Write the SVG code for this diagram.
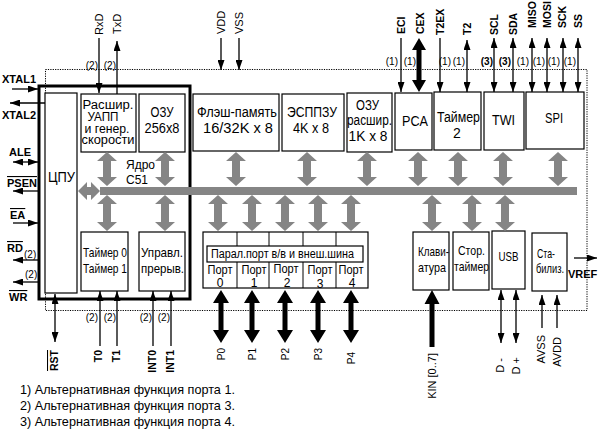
<svg xmlns="http://www.w3.org/2000/svg" xmlns:xlink="http://www.w3.org/1999/xlink" width="598" height="432" viewBox="0 0 598 432">
<style>
.bx{fill:#fff;stroke:#000;stroke-width:1.2}
.core{fill:none;stroke:#000;stroke-width:3}
.dot{fill:none;stroke:#000;stroke-width:1;stroke-dasharray:1.2 1.2}
.ln{stroke:#000;stroke-width:1.3;fill:none}
.gr{fill:#858585}
.blk{fill:#000}
text{font-family:"Liberation Sans",Arial,sans-serif;fill:#000}
.t{font-size:14px;text-anchor:middle}
.tb{font-size:13px;text-anchor:middle}
.tu{font-size:12px;text-anchor:middle}
.t12{font-size:12px;text-anchor:middle}
.sb{font-size:11px;font-weight:bold}
.s10b{font-size:10.5px;font-weight:bold}
.s10{font-size:10px}
.s11{font-size:11px}
.ov{text-decoration:overline}
.fn{font-size:13px}
</style>
<defs>
<marker id="ah" viewBox="0 0 10 7" refX="10" refY="3.5" markerWidth="10" markerHeight="7" markerUnits="userSpaceOnUse" orient="auto-start-reverse"><path d="M0,0L10,3.5L0,7z" fill="#000"/></marker>
<path id="gT" d="M0,0L10,9L4,9L4,25L10,25L0,34L-10,25L-4,25L-4,9L-10,9Z"/>
<path id="gB" d="M0,0L10,9L4,9L4,27L10,27L0,36L-10,27L-4,27L-4,9L-10,9Z"/>
<path id="pA" d="M0,0L8,13L2.5,13L2.5,40L8,40L0,53L-8,40L-2.5,40L-2.5,13L-8,13Z"/>
</defs>
<rect width="598" height="432" fill="#fff"/>

<rect id="outline" class="dot" x="45.5" y="69.5" width="541.5" height="241"/>
<rect id="core" class="core" x="39" y="86" width="151" height="213"/>

<g id="cpu"><rect class="bx" x="45" y="93" width="32" height="200"/><text class="t" x="61.5" y="182" textLength="27" lengthAdjust="spacingAndGlyphs">ЦПУ</text></g>
<g id="uart"><rect class="bx" x="81" y="94" width="55" height="58"/>
<text class="tu" x="108" y="109" textLength="51" lengthAdjust="spacingAndGlyphs">Расшир.</text>
<text class="tu" x="103" y="121" textLength="31" lengthAdjust="spacingAndGlyphs">УАПП</text>
<text class="tu" x="107" y="132.5" textLength="45" lengthAdjust="spacingAndGlyphs">и генер.</text>
<text class="tu" x="108" y="144" textLength="53" lengthAdjust="spacingAndGlyphs">скорости</text></g>
<g id="ram256"><rect class="bx" x="139" y="94" width="46" height="58"/>
<text class="t" x="162" y="117" textLength="23" lengthAdjust="spacingAndGlyphs">ОЗУ</text>
<text class="t" x="162" y="133" textLength="35" lengthAdjust="spacingAndGlyphs">256x8</text></g>
<g id="core51"><text style="font-size:13px" x="126" y="169" textLength="29" lengthAdjust="spacingAndGlyphs">Ядро</text>
<text style="font-size:13px" x="126" y="184" textLength="22" lengthAdjust="spacingAndGlyphs">С51</text></g>
<g id="flash"><rect class="bx" x="193" y="94" width="86" height="57"/>
<text class="t" x="237" y="117" textLength="80" lengthAdjust="spacingAndGlyphs">Флэш-память</text>
<text class="t" x="238" y="133" textLength="70" lengthAdjust="spacingAndGlyphs">16/32K x 8</text></g>
<g id="eeprom"><rect class="bx" x="282" y="94" width="62" height="57"/>
<text class="t" x="312" y="117" textLength="50" lengthAdjust="spacingAndGlyphs">ЭСППЗУ</text>
<text class="t" x="311" y="133" textLength="36" lengthAdjust="spacingAndGlyphs">4K x 8</text></g>
<g id="xram"><rect class="bx" x="347" y="93" width="45" height="59"/>
<text class="t" x="367.5" y="110" textLength="23" lengthAdjust="spacingAndGlyphs">ОЗУ</text>
<text class="t" x="369.5" y="125" textLength="45" lengthAdjust="spacingAndGlyphs">расшир.</text>
<text class="t" x="368" y="141" textLength="39" lengthAdjust="spacingAndGlyphs">1K x 8</text></g>
<g id="pca"><rect class="bx" x="395" y="93" width="37" height="57"/>
<text class="t" x="415" y="126" textLength="26" lengthAdjust="spacingAndGlyphs">PCA</text></g>
<g id="timer2"><rect class="bx" x="434" y="92" width="47" height="58"/>
<text class="t" x="458.5" y="122" textLength="43" lengthAdjust="spacingAndGlyphs">Таймер</text>
<text class="t" x="457" y="138">2</text></g>
<g id="twi"><rect class="bx" x="484" y="92" width="40" height="58"/>
<text class="t" x="503.5" y="125" textLength="23" lengthAdjust="spacingAndGlyphs">TWI</text></g>
<g id="spi"><rect class="bx" x="526" y="92" width="58" height="57"/>
<text class="t" x="554" y="123" textLength="18" lengthAdjust="spacingAndGlyphs">SPI</text></g>

<g id="timer01"><rect class="bx" x="81" y="232" width="47" height="59"/>
<text class="tb" x="105" y="257" textLength="44" lengthAdjust="spacingAndGlyphs">Таймер 0</text>
<text class="tb" x="105" y="273" textLength="44" lengthAdjust="spacingAndGlyphs">Таймер 1</text></g>
<g id="intctl"><rect class="bx" x="139" y="232" width="46" height="59"/>
<text class="tb" x="162" y="257" textLength="42" lengthAdjust="spacingAndGlyphs">Управл.</text>
<text class="tb" x="162.5" y="273" textLength="43" lengthAdjust="spacingAndGlyphs">прерыв.</text></g>
<g id="ports"><rect class="bx" x="203" y="232" width="165" height="56"/>
<path class="ln" style="stroke-width:1" d="M237,232V246M269,232V246M303,232V246M336,232V246M237,262V288M269,262V288M303,262V288M336,262V288"/>
<rect class="bx" x="207" y="246" width="156" height="16"/>
<text class="t12" x="282.5" y="258" textLength="143" lengthAdjust="spacingAndGlyphs">Парал.порт в/в и внеш.шина</text>
<text class="t12" x="220" y="274" textLength="25" lengthAdjust="spacingAndGlyphs">Порт</text>
<text class="t12" x="254" y="274" textLength="25" lengthAdjust="spacingAndGlyphs">Порт</text>
<text class="t12" x="286" y="273" textLength="25" lengthAdjust="spacingAndGlyphs">Порт</text>
<text class="t12" x="320" y="274" textLength="25" lengthAdjust="spacingAndGlyphs">Порт</text>
<text class="t12" x="351" y="274" textLength="25" lengthAdjust="spacingAndGlyphs">Порт</text>
<text class="t12" x="220" y="287">0</text>
<text class="t12" x="254" y="287">1</text>
<text class="t12" x="287" y="287">2</text>
<text class="t12" x="320" y="288">3</text>
<text class="t12" x="352" y="287">4</text></g>
<g id="kbd"><rect class="bx" x="413" y="232" width="36" height="58"/>
<text class="tb" x="433.5" y="256" textLength="31" lengthAdjust="spacingAndGlyphs">Клави-</text>
<text class="tb" x="432" y="272" textLength="28" lengthAdjust="spacingAndGlyphs">атура</text></g>
<g id="wdt"><rect class="bx" x="453" y="232" width="36" height="58"/>
<text class="tb" x="471.5" y="255" textLength="27" lengthAdjust="spacingAndGlyphs">Стор.</text>
<text class="tb" x="471.5" y="271" textLength="35" lengthAdjust="spacingAndGlyphs">таймер</text></g>
<g id="usb"><rect class="bx" x="492" y="231" width="33" height="58"/>
<text class="tb" x="508.5" y="261" textLength="20" lengthAdjust="spacingAndGlyphs">USB</text></g>
<g id="stab"><rect class="bx" x="532" y="233" width="35" height="58"/>
<text class="tb" x="546" y="258" textLength="18" lengthAdjust="spacingAndGlyphs">Ста-</text>
<text class="tb" x="550" y="273" textLength="28" lengthAdjust="spacingAndGlyphs">билиз.</text></g>

<g id="connectors">
<rect class="gr" x="100" y="187" width="477" height="8"/>
<path class="gr" d="M78,191L87,182L87,187L91,187L91,182L100,191L91,200L91,195L87,195L87,200Z"/>
<g class="gr">
<use xlink:href="#gT" x="107" y="152"/><use xlink:href="#gT" x="165" y="152"/><use xlink:href="#gT" x="236" y="152"/>
<use xlink:href="#gT" x="307" y="152"/><use xlink:href="#gT" x="367" y="152"/><use xlink:href="#gT" x="418" y="152"/>
<use xlink:href="#gT" x="458" y="152"/><use xlink:href="#gT" x="503" y="152"/><use xlink:href="#gT" x="558" y="152"/>
<use xlink:href="#gB" x="107" y="195"/><use xlink:href="#gB" x="165" y="195"/><use xlink:href="#gB" x="218" y="195"/>
<use xlink:href="#gB" x="252" y="195"/><use xlink:href="#gB" x="285" y="195"/><use xlink:href="#gB" x="318" y="195"/>
<use xlink:href="#gB" x="351" y="195"/><use xlink:href="#gB" x="432" y="195"/><use xlink:href="#gB" x="472" y="195"/>
<use xlink:href="#gB" x="505" y="195"/>
</g>
<g class="blk">
<use xlink:href="#pA" x="221" y="290"/><use xlink:href="#pA" x="252" y="290"/><use xlink:href="#pA" x="285" y="290"/>
<use xlink:href="#pA" x="318" y="290"/><use xlink:href="#pA" x="351" y="290"/>
<path d="M419,38L426,50L421.5,50L421.5,80L426,80L419,92L412,80L416.5,80L416.5,50L412,50Z"/>
<path d="M432,290L439.5,304L434.5,304L434.5,347L429.5,347L429.5,304L424.5,304Z"/>
</g>
<g class="ln" marker-end="url(#ah)">
<line x1="99" y1="38" x2="99" y2="93"/>
<line x1="117" y1="94" x2="117" y2="41"/>
<line x1="221" y1="38" x2="221" y2="70"/>
<line x1="239" y1="38" x2="239" y2="70"/>
<line x1="401" y1="38" x2="401" y2="92"/>
<line x1="440" y1="38" x2="440" y2="92"/>
<line x1="12" y1="89" x2="38" y2="89"/>
<line x1="45" y1="103" x2="10" y2="103"/>
<line x1="38" y1="191" x2="13" y2="191"/>
<line x1="13" y1="223" x2="38" y2="223"/>
<line x1="38" y1="260" x2="13" y2="260"/>
<line x1="38" y1="282" x2="13" y2="282"/>
<line x1="100" y1="346" x2="100" y2="291"/>
<line x1="117" y1="346" x2="117" y2="291"/>
<line x1="153" y1="346" x2="153" y2="291"/>
<line x1="171" y1="346" x2="171" y2="291"/>
<line x1="542" y1="328" x2="542" y2="295"/>
<line x1="557" y1="328" x2="557" y2="295"/>
<line x1="574" y1="258" x2="597" y2="258"/>
</g>
<g class="ln" marker-start="url(#ah)" marker-end="url(#ah)">
<line x1="467" y1="40" x2="467" y2="92"/>
<line x1="494" y1="38" x2="494" y2="92"/>
<line x1="513" y1="38" x2="513" y2="92"/>
<line x1="532" y1="38" x2="532" y2="92"/>
<line x1="547" y1="38" x2="547" y2="92"/>
<line x1="563" y1="38" x2="563" y2="92"/>
<line x1="578" y1="38" x2="578" y2="92"/>
<line x1="13" y1="162" x2="38" y2="162"/>
<line x1="55" y1="294" x2="55" y2="342"/>
<line x1="501" y1="290" x2="501" y2="343"/>
<line x1="516" y1="290" x2="516" y2="343"/>
</g>
</g>

<g id="labels">
<text class="sb" x="2" y="83">XTAL1</text>
<text class="sb" x="2" y="119">XTAL2</text>
<text class="sb" x="9" y="156">ALE</text>
<text class="sb ov" x="7" y="187">PSEN</text>
<text class="sb ov" x="10" y="219">EA</text>
<text class="sb ov" x="7" y="252">RD</text>
<text class="s10" x="24" y="258">(2)</text>
<text class="s10" x="25" y="278">(2)</text>
<text class="sb ov" x="9" y="301">WR</text>

<text class="s11" transform="translate(103,35) rotate(-90)">RxD</text>
<text class="s11" transform="translate(121,34) rotate(-90)">TxD</text>
<text class="s10" x="98" y="69" text-anchor="end">(2)</text>
<text class="s10" x="116" y="69" text-anchor="end">(2)</text>
<text class="s11" transform="translate(225,34) rotate(-90)">VDD</text>
<text class="s11" transform="translate(243,34) rotate(-90)">VSS</text>
<text class="s10b" transform="translate(405,34) rotate(-90)">ECI</text>
<text class="s10b" transform="translate(424,34) rotate(-90)">CEX</text>
<text class="s10b" transform="translate(444,35) rotate(-90)">T2EX</text>
<text class="s10b" transform="translate(471,35) rotate(-90)">T2</text>
<text class="s10b" transform="translate(498,35) rotate(-90)">SCL</text>
<text class="s10b" transform="translate(517,35) rotate(-90)">SDA</text>
<text class="s10b" transform="translate(536,28) rotate(-90)">MISO</text>
<text class="s10b" transform="translate(551,28) rotate(-90)">MOSI</text>
<text class="s10b" transform="translate(566,28) rotate(-90)">SCK</text>
<text class="s10b" transform="translate(582,28) rotate(-90)">SS</text>
<g class="s10" text-anchor="end">
<text x="398" y="65">(1)</text><text x="416" y="65">(1)</text>
<text x="451" y="65">(1)</text><text x="465" y="65">(1)</text>
<text x="493" y="65" font-weight="bold">(3)</text><text x="511" y="65" font-weight="bold">(3)</text>
<text x="529" y="65">(1)</text><text x="545" y="65">(1)</text>
<text x="560" y="65">(1)</text><text x="576" y="65">(1)</text>
<text x="98" y="321">(2)</text><text x="116" y="321">(2)</text>
<text x="152" y="321">(2)</text><text x="170" y="321">(2)</text>
</g>
<text class="sb" x="568" y="278">VREF</text>

<g text-anchor="end">
<text class="s10b ov" transform="translate(58,350) rotate(-90)">RST</text>
<text class="s10b" transform="translate(102,350) rotate(-90)">T0</text>
<text class="s10b" transform="translate(120,350) rotate(-90)">T1</text>
<text class="s10b" transform="translate(156,350) rotate(-90)">INT0</text>
<text class="s10b" transform="translate(174,350) rotate(-90)">INT1</text>
<text class="s10" transform="translate(224.5,348) rotate(-90)">P0</text>
<text class="s10" transform="translate(255.5,348) rotate(-90)">P1</text>
<text class="s10" transform="translate(288.5,348) rotate(-90)">P2</text>
<text class="s10" transform="translate(321.5,348) rotate(-90)">P3</text>
<text class="s10" transform="translate(354.5,352) rotate(-90)">P4</text>
<text class="s11" transform="translate(436,353) rotate(-90)">KIN [0..7]</text>
<text class="s11" transform="translate(504,358) rotate(-90)">D -</text>
<text class="s11" transform="translate(520,357) rotate(-90)">D +</text>
<text class="s11" transform="translate(545,335) rotate(-90)">AVSS</text>
<text class="s11" transform="translate(561,337) rotate(-90)">AVDD</text>
</g>

<text class="fn" x="20" y="394" textLength="215" lengthAdjust="spacingAndGlyphs">1) Альтернативная функция порта 1.</text>
<text class="fn" x="20" y="410" textLength="215" lengthAdjust="spacingAndGlyphs">2) Альтернативная функция порта 3.</text>
<text class="fn" x="20" y="426" textLength="215" lengthAdjust="spacingAndGlyphs">3) Альтернативная функция порта 4.</text>
</g>
</svg>
